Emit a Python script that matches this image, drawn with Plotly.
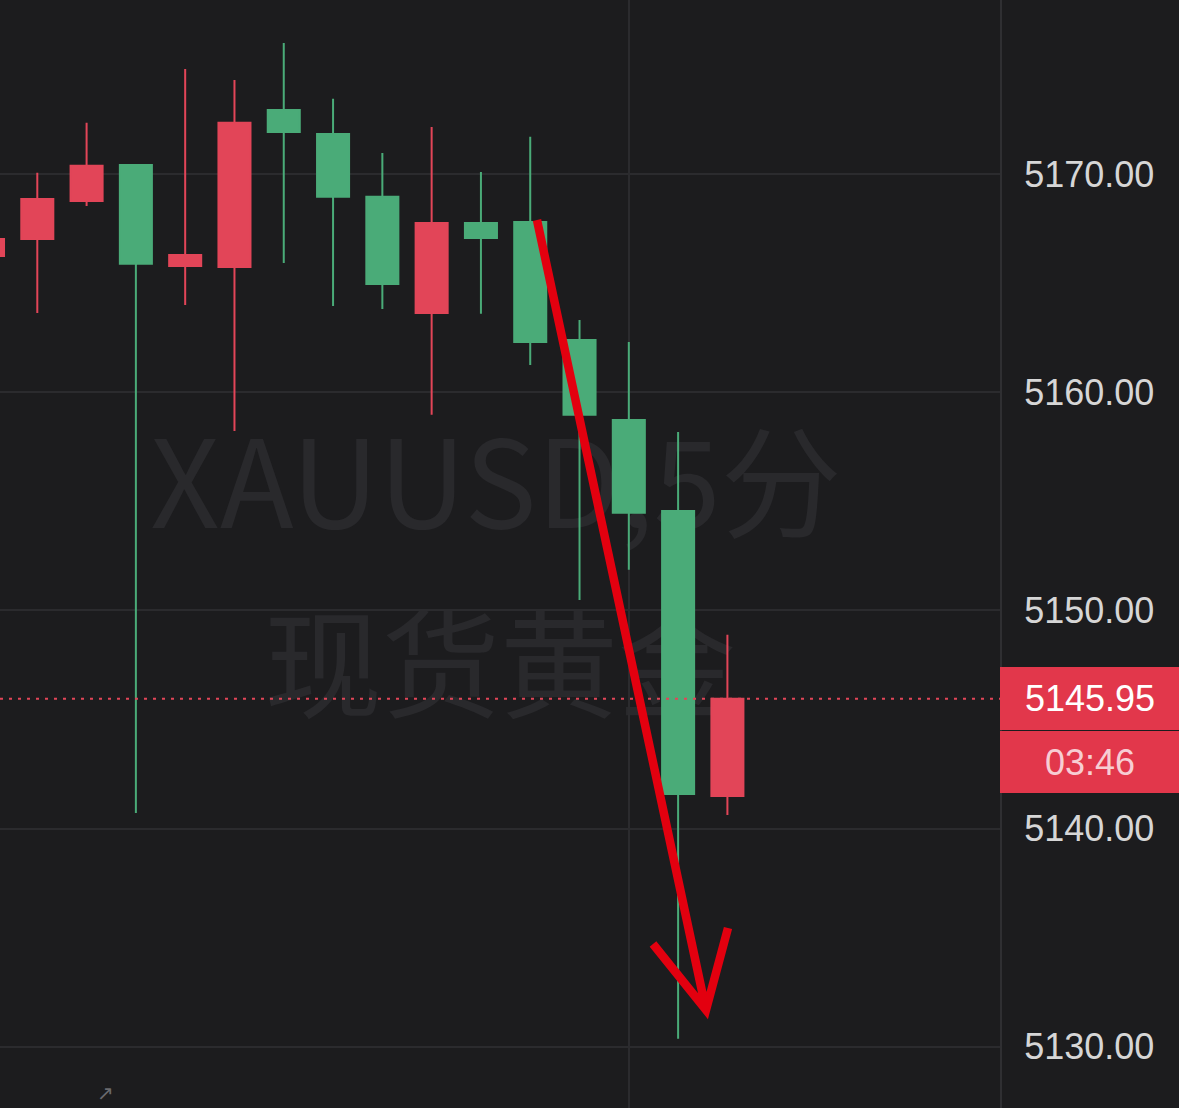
import plotly.graph_objects as go

# ---- data (XAUUSD 5-min candles) ----
bar_index = list(range(16))
opens = [5166.24, 5167.02, 5168.76, 5170.41, 5165.78, 5165.74, 5172.93, 5171.83,
         5168.95, 5163.63, 5167.75, 5167.80, 5162.39, 5158.73, 5154.56, 5141.50]
highs = [5167.40, 5170.05, 5172.34, 5170.41, 5174.81, 5174.31, 5176.00, 5173.44,
         5170.96, 5172.15, 5170.09, 5171.70, 5163.31, 5162.30, 5158.18, 5148.88]
lows = [5165.60, 5163.63, 5168.53, 5140.72, 5164.00, 5158.22, 5165.92, 5163.95,
        5163.81, 5158.96, 5163.59, 5161.25, 5150.48, 5151.86, 5130.37, 5140.63]
closes = [5167.02, 5168.85, 5170.37, 5165.88, 5166.29, 5172.34, 5171.92, 5168.95,
          5164.96, 5167.75, 5167.07, 5162.30, 5158.96, 5154.47, 5141.59, 5145.95]
price_ticks = [5130, 5140, 5150, 5160, 5170]
last_price = 5145.95
countdown = "03:46"
watermark_1 = "XAUUSD,5分"
watermark_2 = "现货黄金"

BG = "#1c1c1e"
GRID = "#2b2b2e"
UP = "#e24558"      # red = rising
DOWN = "#4aab78"    # green = falling
ARROW = "#e3000f"

fig = go.Figure()
fig.add_trace(go.Candlestick(
    x=bar_index, open=opens, high=highs, low=lows, close=closes,
    increasing=dict(line=dict(color=UP, width=2), fillcolor=UP),
    decreasing=dict(line=dict(color=DOWN, width=2), fillcolor=DOWN),
    whiskerwidth=0, hoverinfo="skip", showlegend=False,
))

W, H = 1179, 1108
PW = 1000  # plot width in px


def px(x, y):
    return x / PW, 1 - y / H


shapes = []
# watermark (below traces)
for txt, cx, cy, size in [(watermark_1, 496, 494, 121), (watermark_2, 500, 676, 118)]:
    x0, y0 = px(cx - 420, cy - 60)
    x1, y1 = px(cx + 420, cy + 60)
    shapes.append(dict(
        type="rect", xref="paper", yref="paper", x0=x0, x1=x1, y0=y1, y1=y0,
        line=dict(width=0), fillcolor="rgba(0,0,0,0)", layer="below",
        label=dict(text=txt, textposition="middle center",
                   font=dict(size=size, color="#29292c", family="Noto Sans CJK SC"))
    ))

# current price dotted line
shapes.append(dict(type="line", xref="paper", yref="y", x0=0, x1=1,
                   y0=last_price, y1=last_price,
                   line=dict(color=UP, width=2, dash="3px,6px"), layer="above"))

# hand-drawn red arrow
a0 = px(537, 220); tip = px(706, 1010); b1 = px(653, 944); b2 = px(728, 928)
path = (f"M {a0[0]},{a0[1]} L {tip[0]},{tip[1]} "
        f"M {b1[0]},{b1[1]} L {tip[0]},{tip[1]} L {b2[0]},{b2[1]}")
shapes.append(dict(type="path", xref="paper", yref="paper", path=path,
                   line=dict(color=ARROW, width=8.5), layer="above"))

annotations = [
    dict(x=1, xref="paper", y=last_price, yref="y", xanchor="left", yanchor="middle",
         text=f"{last_price:.2f}", showarrow=False, bgcolor="#e2374b",
         width=180, height=63, borderpad=0, borderwidth=0, align="center",
         font=dict(size=36, color="#ffffff", family="Liberation Sans")),
    dict(x=1, xref="paper", y=last_price, yref="y", xanchor="left", yanchor="middle",
         yshift=-63, text=countdown, showarrow=False, bgcolor="#e2374b",
         width=180, height=62, borderpad=0, borderwidth=0, align="center",
         font=dict(size=36, color="#f7cdd3", family="Liberation Sans")),
    dict(x=95 / PW, xref="paper", y=0, yref="paper", yanchor="bottom",
         text="↗", showarrow=False, font=dict(size=20, color="#6a6a6e")),
]

fig.update_layout(
    width=W, height=H,
    margin=dict(l=0, r=W - PW, t=0, b=0),
    paper_bgcolor=BG, plot_bgcolor="rgba(0,0,0,0)",
    showlegend=False, hovermode=False,
    boxgap=0.35, boxgroupgap=0,
    shapes=shapes, annotations=annotations,
    xaxis=dict(range=[0.2434, 20.53], rangeslider=dict(visible=False),
               tickvals=[13], showticklabels=False, showgrid=True,
               gridcolor=GRID, gridwidth=2, zeroline=False, ticks="", fixedrange=True),
    yaxis=dict(side="right", range=[5127.20, 5177.97], tickvals=price_ticks,
               tickformat=".2f", showgrid=True, gridcolor=GRID, gridwidth=2,
               zeroline=False, ticks="", ticklabelstandoff=15,
               tickfont=dict(size=36, color="#d6d6d6", family="Liberation Sans"),
               showline=True, linecolor="#2f2f32", linewidth=2, fixedrange=True),
)

fig.write_html("out.html", config={"displayModeBar": False},
               post_script="document.body.style.margin='0';document.body.style.overflow='hidden';")
